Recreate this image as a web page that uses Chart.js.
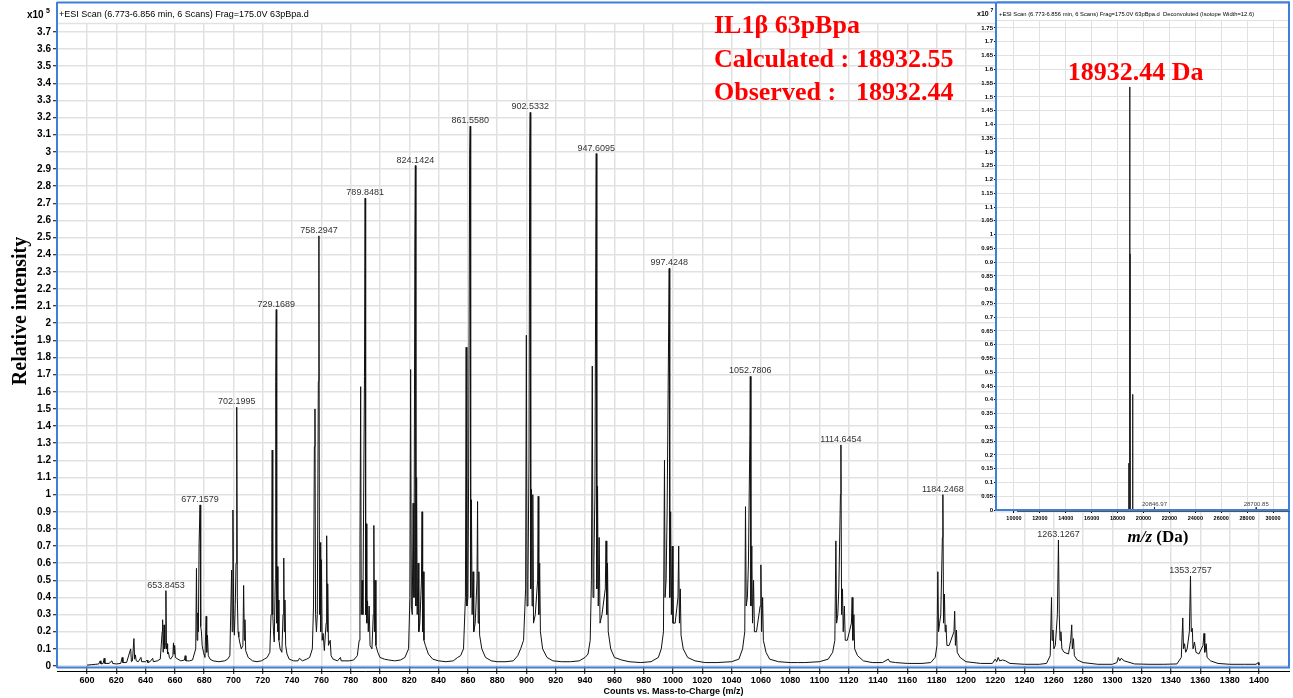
<!DOCTYPE html>
<html>
<head>
<meta charset="utf-8">
<title>IL1b 63pBpa ESI spectrum</title>
<script src="https://cdn.jsdelivr.net/npm/chart.js@4.4.1/dist/chart.umd.min.js"></script>
<style>
  html, body { margin: 0; padding: 0; background: #fff; }
  #wrap { position: relative; width: 1293px; height: 698px; overflow: hidden; }
  #spectrum { position: absolute; left: 0; top: 0; }
  #deconv { position: absolute; left: 960px; top: 0; }
</style>
</head>
<body>
<div id="wrap">
  <canvas id="spectrum" width="1293" height="698"></canvas>
  <canvas id="deconv" width="333" height="560"></canvas>
</div>
<script>
// axis ticks
const mzTicks = [600, 620, 640, 660, 680, 700, 720, 740, 760, 780, 800, 820, 840, 860, 880, 900, 920, 940, 960, 980,
  1000, 1020, 1040, 1060, 1080, 1100, 1120, 1140, 1160, 1180, 1200, 1220, 1240, 1260, 1280, 1300, 1320, 1340, 1360, 1380, 1400]
const countTicks = [0, 0.1, 0.2, 0.3, 0.4, 0.5, 0.6, 0.7, 0.8, 0.9, 1, 1.1, 1.2, 1.3, 1.4, 1.5, 1.6, 1.7, 1.8, 1.9,
  2, 2.1, 2.2, 2.3, 2.4, 2.5, 2.6, 2.7, 2.8, 2.9, 3, 3.1, 3.2, 3.3, 3.4, 3.5, 3.6, 3.7]
const massTicks = [10000, 12000, 14000, 16000, 18000, 20000, 22000, 24000, 26000, 28000, 30000]
const abundTicks = [0, 0.05, 0.1, 0.15, 0.2, 0.25, 0.3, 0.35, 0.4, 0.45, 0.5, 0.55, 0.6, 0.65, 0.7, 0.75, 0.8, 0.85,
  0.9, 0.95, 1, 1.05, 1.1, 1.15, 1.2, 1.25, 1.3, 1.35, 1.4, 1.45, 1.5, 1.55, 1.6, 1.65, 1.7, 1.75]

// labelled charge states (m/z)
const labelledPeaks = [653.8453, 677.1579, 702.1995, 729.1689, 758.2947, 789.8481, 824.1424, 861.5580,
  902.5332, 947.6095, 997.4248, 1052.7806, 1114.6454, 1184.2468, 1263.1267, 1353.2757]

// profile spectrum: [m/z, counts x10^5]
const profileLow = [
  [600,0.005],[603,0.008],[606,0.01],[608,0.012],[609,0.03],[609.5,0.012],[611,0.015],[611.7,0.045],[612.2,0.015],
  [615,0.015],[617,0.03],[617.5,0.015],[620,0.012],[623,0.015],[624,0.05],[624.5,0.02],[627,0.02],[629.8,0.1],
  [630.3,0.025],[631,0.03],[632,0.16],[632.5,0.04],[633,0.065],[633.6,0.03],[635,0.025],[636.8,0.05],[637.3,0.025],
  [640,0.025],[641,0.035],[641.5,0.02],[643,0.025],[644.8,0.045],[645.3,0.025],[648,0.03],[650,0.04],
  [651.3,0.2],[651.6,0.27],[652,0.08],[652.6,0.24],[653,0.1],[653.4,0.13],[653.8453,0.44],[654.2,0.1],[654.6,0.13],
  [655,0.07],[655.6,0.08],[656.2,0.05],[657,0.04],[658.6,0.06],[659,0.135],[659.4,0.07],[659.8,0.12],[660.3,0.05],
  [662,0.04],[664,0.03],[666.5,0.035],[667,0.06],[667.5,0.03],[670,0.03],[672,0.035],
  [674.2,0.1],[674.7,0.57],[675.1,0.15],[675.6,0.31],[676,0.2],[676.5,0.72],[677.1579,0.94],[677.6,0.23],[678.1,0.2],
  [678.6,0.12],[679.5,0.08],[680.5,0.05],[681.3,0.29],[681.7,0.08],[682.2,0.18],[682.8,0.06],[684,0.04],[686,0.03],
  [690,0.025],[694,0.03],[696,0.04],[697.5,0.06],
  [698.7,0.56],[699.1,0.2],[699.6,0.91],[700.1,0.3],[700.6,0.18],[701.2,0.36],[701.7,0.6],[702.1995,1.51],[702.6,0.4],
  [703.1,0.2],[703.6,0.17],[704.2,0.14],[705.3,0.1],[706.4,0.12],[706.9,0.47],[707.4,0.15],[707.8,0.27],[708.3,0.09],
  [710,0.05],[713,0.03],[716,0.025],[719,0.03],[721,0.04],[723,0.05],[724.8,0.08],
  [725.6,0.3],[726.1,0.72],[726.4,1.26],[726.8,0.3],[727.3,0.2],[727.8,0.14],[728.5,0.5],[728.8,1.66],[729.1689,2.08],
  [729.5,0.25],[729.9,0.58],[730.3,0.2],[730.6,0.385],[731,0.15],[731.8,0.1],[733,0.08],[733.8,0.3],[734.3,0.63],
  [734.7,0.2],[735.1,0.385],[735.6,0.12],[736.5,0.07],[738,0.04],[741,0.03],[744,0.03]
]
const profileMid = [
  [745,0.045],[747,0.03],[750,0.04],[752,0.05],[753.8,0.1],
  [754.6,0.35],[755.2,1.28],[755.6,1.5],[756,0.3],[756.6,0.2],[757.2,0.3],[757.9,1.66],[758.2947,2.51],[758.7,0.3],
  [759.1,0.72],[759.5,0.2],[760,0.62],[760.5,0.15],[761.2,0.19],[762,0.09],[763.2,0.25],[763.6,0.76],[764,0.2],
  [764.3,0.48],[764.8,0.12],[766,0.15],[766.6,0.06],[768,0.04],[771,0.03],[773,0.05],[773.5,0.03],[776,0.03],
  [779,0.03],[782,0.035],[784.5,0.06],[785.8,0.15],
  [786.3,0.72],[786.8,1.63],[787.2,0.3],[787.8,0.5],[788.3,0.3],[789.4,1.69],[789.8481,2.73],[790.2,0.3],[790.6,0.83],
  [791,0.25],[791.5,0.38],[792,0.2],[792.6,0.35],[793.2,0.12],[794.5,0.1],[795.4,0.3],[795.8,0.82],[796.2,0.2],
  [796.6,0.5],[797.2,0.12],[798.5,0.08],[800,0.05],[803,0.04],[806,0.035],[810,0.03],[814,0.035],[817,0.05],[819.5,0.1],
  [820.4,0.4],[820.9,1.73],[821.4,0.35],[822,0.3],[822.6,0.95],[823.2,0.4],[823.8,2.5],[824.1424,2.92],[824.5,0.35],
  [825,1.1],[825.4,0.3],[826,0.6],[826.5,0.2],[827.2,0.25],[828.3,0.5],[828.7,0.9],[829.1,0.2],[829.5,0.55],[830,0.15],
  [831,0.12],[833,0.07],[836,0.04],[840,0.03],[845,0.025],[850,0.03],[853,0.05],[855,0.06],[857,0.1],
  [858.3,0.4],[858.8,1.86],[859.3,0.35],[860,0.4],[860.5,1.1],[861.2,2.98],[861.558,3.15],[861.9,0.4],[862.4,0.97],
  [862.9,0.3],[863.5,0.55],[864,0.2],[865,0.25],[866.2,0.5],[866.6,0.96],[867,0.25],[867.5,0.55],[868,0.18],[869.5,0.1],
  [872,0.05],[876,0.03],[880,0.025],[886,0.025],[891,0.03],[894,0.06],[896,0.1],[898,0.15],
  [899.4,0.45],[899.9,1.93],[900.4,0.35],[901,0.5],[901.7,1.2],[902.2,3.0],[902.5332,3.23],[902.9,0.45],[903.4,1.03],
  [903.8,0.35],[904.3,1.0],[904.8,0.25],[906,0.3],[907.6,0.5],[908,0.99],[908.4,0.3],[909,0.6],[909.5,0.2],[911,0.1],
  [914,0.05],[918,0.03],[924,0.025],[930,0.025],[936,0.03],[940,0.05],[942,0.07],[943.5,0.15],
  [944.3,0.5],[944.9,1.75],[945.4,0.4],[946,0.6],[946.7,1.0],[947.3,2.43],[947.6095,2.99],[948,0.45],[948.5,1.05],
  [949,0.35],[949.6,0.75],[950.2,0.25],[951.5,0.3],[953.8,0.45],[954.3,0.73],[954.8,0.3],[955.3,0.6],[955.8,0.2],
  [957.5,0.1]
]
const profileHigh = [
  [960,0.05],[965,0.035],[970,0.025],[978,0.02],[985,0.025],[990,0.05],[992,0.1],[993.5,0.2],
  [994.2,1.2],[994.6,0.4],[995.3,0.5],[996,0.9],[997.1,2.03],[997.4248,2.32],[997.8,0.4],[998.4,0.9],[998.9,0.3],
  [999.5,0.7],[1000,0.25],[1001.5,0.25],[1003.4,0.4],[1003.9,0.7],[1004.4,0.25],[1005,0.45],[1005.5,0.18],[1007,0.1],
  [1010,0.05],[1015,0.03],[1022,0.02],[1030,0.02],[1040,0.025],[1045,0.04],[1047.5,0.1],[1049,0.2],
  [1049.5,0.93],[1050,0.35],[1050.8,0.4],[1051.5,0.6],[1052.5,1.35],[1052.7806,1.69],[1053.2,0.35],[1053.8,0.7],
  [1054.3,0.25],[1055,0.5],[1055.6,0.2],[1057,0.2],[1059.5,0.35],[1060,0.59],[1060.5,0.2],[1061.2,0.4],[1061.7,0.15],
  [1063.5,0.08],[1066,0.04],[1072,0.025],[1080,0.02],[1085,0.02],[1090,0.02],[1100,0.025],[1106,0.04],[1109,0.08],
  [1110.5,0.15],
  [1111.2,0.73],[1111.7,0.25],[1112.5,0.3],[1113.2,0.45],[1114.3,1.0],[1114.6454,1.29],[1115.1,0.3],[1115.7,0.45],
  [1116.2,0.2],[1117,0.35],[1117.6,0.15],[1119,0.15],[1121.8,0.25],[1122.3,0.4],[1122.8,0.15],[1123.5,0.3],[1124,0.1],
  [1126,0.06],[1130,0.03],[1136,0.02]
]
const profileTail = [
  [1143,0.02],[1147,0.04],[1148,0.025],[1152,0.02],[1160,0.015],[1170,0.015],[1176,0.02],[1179,0.05],[1180.2,0.12],
  [1180.8,0.55],[1181.3,0.2],[1182,0.25],[1182.8,0.3],[1183.9,0.75],[1184.2468,1.0],[1184.7,0.25],[1185.3,0.42],
  [1185.8,0.2],[1186.3,0.24],[1187,0.12],[1188.5,0.12],[1191.8,0.2],[1192.3,0.32],[1192.8,0.12],[1193.5,0.21],
  [1194,0.08],[1196,0.05],[1200,0.025],[1210,0.015],[1218,0.015],[1220,0.04],[1221,0.025],[1222,0.05],[1223,0.03],
  [1225,0.035],[1227,0.03],[1230,0.015],[1240,0.01],[1250,0.01],[1255,0.015],[1257.5,0.06],
  [1258.4,0.4],[1258.8,0.15],[1259.4,0.21],[1260,0.1],[1261,0.12],[1262.4,0.3],[1263.1267,0.735],[1263.7,0.3],
  [1264.2,0.15],[1264.8,0.2],[1265.5,0.1],[1267,0.08],[1270,0.07],[1271.5,0.15],[1272.2,0.24],[1272.6,0.1],
  [1273.4,0.16],[1274,0.06],[1276,0.035],[1280,0.02],[1290,0.01],[1300,0.01],[1303,0.02],[1304,0.05],[1305,0.03],
  [1306,0.045],[1308,0.03],[1310,0.025],[1315,0.012],[1325,0.01],[1335,0.01],[1344,0.012],[1347,0.05],
  [1348,0.28],[1348.5,0.1],[1349.2,0.13],[1350,0.08],[1351,0.1],[1352.5,0.2],[1353.2757,0.525],[1353.8,0.2],
  [1354.5,0.22],[1355,0.1],[1356,0.14],[1357,0.08],[1359,0.07],[1361.8,0.12],[1362.5,0.19],[1363,0.08],[1364,0.13],
  [1364.6,0.05],[1367,0.03],[1372,0.015],[1380,0.01],[1390,0.01],[1398,0.01],[1399.5,0.02],[1400,0.005]
]

// deconvoluted masses (Da) and abundance (x10^7)
const deconvMass = [18870, 18932.44, 18950, 18965, 19150, 19180]
const deconvAbund = [0.17, 1.536, 1.03, 0.93, 0.42, 0.085]
const minorMass = [20846.97, 28700.85]
const minorAbund = [0.011, 0.01]

const BLUE = '#3f7fdc'
const GRID = '#e1e1e1'
Chart.defaults.font.family = '"Liberation Sans", Arial, sans-serif'
Chart.defaults.color = '#000'

const profile = [...profileLow, ...profileMid, ...profileHigh, ...profileTail]

function countsAt(mz){
  const p = profile.find(item => item[0] === mz)
  return p ? p[1] : 0
}

function fmt(v, digits){
  return String(+v.toFixed(digits))
}

const spectrumDecor = {
  id: 'spectrumDecor',
  beforeDraw(chart){
    const ctx = chart.ctx
    ctx.save()
    ctx.fillStyle = '#fff'
    ctx.fillRect(0, 0, chart.width, chart.height)
    ctx.restore()
  },
  afterDatasetsDraw(chart){
    const {ctx, scales: {x, y}} = chart
    ctx.save()
    ctx.font = '9px "Liberation Sans"'
    ctx.fillStyle = '#333'
    ctx.textAlign = 'center'
    for (const mz of labelledPeaks){
      const px = x.getPixelForValue(mz)
      const py = y.getPixelForValue(countsAt(mz))
      ctx.fillText(mz.toFixed(4), px, py - 3)
    }
    ctx.restore()
  },
  afterDraw(chart){
    const {ctx, chartArea: a} = chart
    ctx.save()
    // top edge of plot
    ctx.strokeStyle = GRID
    ctx.lineWidth = 1.5
    ctx.beginPath(); ctx.moveTo(a.left, a.top + 0.5); ctx.lineTo(a.right, a.top + 0.5); ctx.stroke()
    // blue frame
    ctx.strokeStyle = BLUE
    ctx.lineWidth = 2
    ctx.beginPath()
    ctx.moveTo(a.left, 2); ctx.lineTo(a.left, a.bottom + 2)
    ctx.moveTo(a.left, 2.5); ctx.lineTo(a.right, 2.5)
    ctx.moveTo(a.right - 1, 2); ctx.lineTo(a.right - 1, a.bottom + 2)
    ctx.moveTo(a.left, a.bottom + 1.5); ctx.lineTo(a.right, a.bottom + 1.5)
    ctx.stroke()
    // axis line
    ctx.strokeStyle = '#000'
    ctx.lineWidth = 1
    ctx.beginPath(); ctx.moveTo(a.left, a.bottom + 5.5); ctx.lineTo(a.right, a.bottom + 5.5); ctx.stroke()

    // titles
    ctx.fillStyle = '#000'
    ctx.font = '9px "Liberation Sans"'
    ctx.fillText('+ESI Scan (6.773-6.856 min, 6 Scans) Frag=175.0V 63pBpa.d', a.left + 2, 17)
    ctx.font = 'bold 10px "Liberation Sans"'
    ctx.fillText('x10', 27, 18)
    ctx.font = 'bold 7px "Liberation Sans"'
    ctx.fillText('5', 46, 13)
    ctx.font = 'bold 9px "Liberation Sans"'
    ctx.textAlign = 'center'
    ctx.fillText('Counts vs. Mass-to-Charge (m/z)', (a.left + a.right) / 2, 694)

    ctx.save()
    ctx.translate(21, 311)
    ctx.rotate(-Math.PI / 2)
    ctx.font = 'bold 20px "Liberation Serif"'
    ctx.textBaseline = 'middle'
    ctx.fillText('Relative intensity', 0, 0)
    ctx.restore()

    // sample annotation
    ctx.textAlign = 'left'
    ctx.fillStyle = '#ff0000'
    ctx.font = 'bold 26px "Liberation Serif"'
    ctx.fillText('IL1β 63pBpa', 714, 33)
    ctx.fillText('Calculated :', 714, 67)
    ctx.fillText('18932.55', 856, 67)
    ctx.fillText('Observed :', 714, 100)
    ctx.fillText('18932.44', 856, 100)
    ctx.restore()
  }
}

new Chart(document.getElementById('spectrum'), {
  type: 'line',
  data: {
    datasets: [{
      data: profile.map(([mz, c]) => ({x: mz, y: c})),
      borderColor: '#111',
      borderWidth: 1,
      pointRadius: 0,
      tension: 0,
      fill: false
    }]
  },
  options: {
    responsive: false,
    animation: false,
    layout: {padding: {top: 23, right: 3, left: 0, bottom: 0}},
    plugins: {legend: {display: false}, tooltip: {enabled: false}},
    scales: {
      x: {
        type: 'linear',
        min: 579.5,
        max: 1421.2,
        afterBuildTicks: axis => { axis.ticks = mzTicks.map(v => ({value: v})) },
        afterFit: axis => { axis.height = 32 },
        ticks: {autoSkip: false, maxRotation: 0, padding: 1, font: {size: 9, weight: 'bold'}, callback: v => String(v)},
        grid: {color: GRID, lineWidth: 1.5, tickColor: '#000', tickWidth: 1, tickLength: 8},
        border: {display: false}
      },
      y: {
        min: 0,
        max: 3.752,
        afterBuildTicks: axis => { axis.ticks = countTicks.map(v => ({value: v})) },
        afterFit: axis => { axis.width = 57 },
        ticks: {autoSkip: false, padding: 2, font: {size: 10, weight: 'bold'}, callback: v => fmt(v, 1)},
        grid: {color: GRID, lineWidth: 1.5, tickColor: '#000', tickWidth: 1, tickLength: 4},
        border: {display: false}
      }
    }
  },
  plugins: [spectrumDecor]
})

// deconvoluted inset
const deconvPoints = [{x: 8690, y: 0}]
deconvMass.forEach((m, i) => deconvPoints.push({x: m, y: 0}, {x: m, y: deconvAbund[i]}, {x: m, y: 0}))
minorMass.forEach((m, i) => deconvPoints.push({x: m, y: 0}, {x: m, y: minorAbund[i]}, {x: m, y: 0}))
deconvPoints.push({x: 31310, y: 0})

const deconvDecor = {
  id: 'deconvDecor',
  beforeDraw(chart){
    const {ctx, chartArea: a} = chart
    ctx.save()
    ctx.fillStyle = '#fff'
    ctx.fillRect(a.left, 3, a.right - a.left, a.bottom - 3)
    ctx.restore()
  },
  afterDraw(chart){
    const {ctx, chartArea: a, scales: {x, y}} = chart
    ctx.save()
    ctx.strokeStyle = GRID
    ctx.lineWidth = 1
    ctx.beginPath(); ctx.moveTo(a.left, a.top + 0.5); ctx.lineTo(a.right, a.top + 0.5); ctx.stroke()

    ctx.strokeStyle = BLUE
    ctx.lineWidth = 2
    ctx.beginPath()
    ctx.moveTo(a.left - 1, 2); ctx.lineTo(a.left - 1, a.bottom + 1)
    ctx.moveTo(a.left, 2.5); ctx.lineTo(a.right, 2.5)
    ctx.moveTo(a.right - 1, 2); ctx.lineTo(a.right - 1, a.bottom)
    ctx.moveTo(a.left - 1, a.bottom); ctx.lineTo(a.right, a.bottom)
    ctx.stroke()
    ctx.strokeStyle = '#555'
    ctx.lineWidth = 1
    ctx.beginPath(); ctx.moveTo(a.left + 20, a.bottom + 1.5); ctx.lineTo(a.right, a.bottom + 1.5); ctx.stroke()

    ctx.fillStyle = '#000'
    ctx.font = '5.8px "Liberation Sans"'
    ctx.fillText('+ESI Scan (6.773-6.856 min, 6 Scans) Frag=175.0V 63pBpa.d  Deconvoluted (Isotope Width=12.6)', a.left + 2, 16)
    ctx.font = 'bold 7px "Liberation Sans"'
    ctx.fillText('x10', 17, 16)
    ctx.font = 'bold 5px "Liberation Sans"'
    ctx.fillText('7', 30.5, 12)

    // minor peak labels
    ctx.fillStyle = '#444'
    ctx.font = '6px "Liberation Sans"'
    ctx.textAlign = 'center'
    minorMass.forEach((m, i) => {
      ctx.fillText(m.toFixed(2), x.getPixelForValue(m), y.getPixelForValue(minorAbund[i]) - 1)
    })

    // observed mass
    const topMass = deconvMass[deconvAbund.indexOf(Math.max(...deconvAbund))]
    ctx.fillStyle = '#ff0000'
    ctx.textAlign = 'left'
    ctx.font = 'bold 26px "Liberation Serif"'
    ctx.fillText(topMass.toFixed(2) + ' Da', x.getPixelForValue(topMass) - 62, 80)

    // axis title: m/z (Da)
    ctx.fillStyle = '#000'
    ctx.font = 'italic bold 17px "Liberation Serif"'
    const w1 = ctx.measureText('m/z').width
    ctx.font = 'bold 17px "Liberation Serif"'
    const w2 = ctx.measureText(' (Da)').width
    const left = 198 - (w1 + w2) / 2
    ctx.font = 'italic bold 17px "Liberation Serif"'
    ctx.fillText('m/z', left, 542)
    ctx.font = 'bold 17px "Liberation Serif"'
    ctx.fillText(' (Da)', left + w1, 542)
    ctx.restore()
  }
}

new Chart(document.getElementById('deconv'), {
  type: 'line',
  data: {
    datasets: [{
      data: deconvPoints,
      borderColor: '#222',
      borderWidth: 1,
      pointRadius: 0,
      tension: 0,
      fill: false
    }]
  },
  options: {
    responsive: false,
    animation: false,
    layout: {padding: {top: 20, right: 3, left: 0, bottom: 0}},
    plugins: {legend: {display: false}, tooltip: {enabled: false}},
    scales: {
      x: {
        type: 'linear',
        min: 8690,
        max: 31310,
        afterBuildTicks: axis => { axis.ticks = massTicks.map(v => ({value: v})) },
        afterFit: axis => { axis.height = 50 },
        ticks: {autoSkip: false, maxRotation: 0, padding: 2, font: {size: 5.5, weight: 'bold'}, callback: v => String(v)},
        grid: {color: GRID, lineWidth: 1, tickColor: '#000', tickLength: 3},
        border: {display: false}
      },
      y: {
        min: 0,
        max: 1.779,
        afterBuildTicks: axis => { axis.ticks = abundTicks.map(v => ({value: v})) },
        afterFit: axis => { axis.width = 37 },
        ticks: {autoSkip: false, padding: 1, font: {size: 6, weight: 'bold'}, callback: v => fmt(v, 2)},
        grid: {color: GRID, lineWidth: 1, tickColor: '#000', tickLength: 3},
        border: {display: false}
      }
    }
  },
  plugins: [deconvDecor]
})
</script>
</body>
</html>
